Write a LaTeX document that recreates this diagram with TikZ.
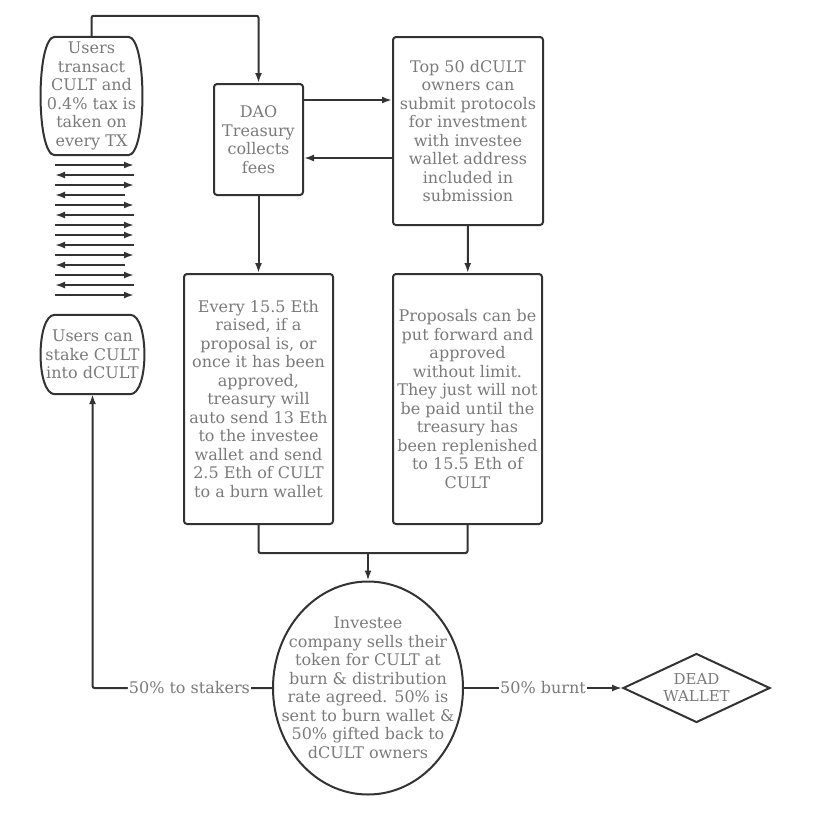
\documentclass[tikz,border=0pt]{standalone}
\usepackage{fontspec}
\setmainfont{DejaVu Serif}
\usetikzlibrary{arrows.meta,shapes.geometric}
\definecolor{inkgray}{HTML}{333333}
\definecolor{textgray}{HTML}{7A7A7A}
\tikzset{
  every node/.style={font=\fontsize{16pt}{18.5pt}\selectfont, text=textgray, align=center},
  box/.style={draw=inkgray, line width=2pt, rounded corners=3pt, inner sep=2pt},
  link/.style={draw=inkgray, line width=2pt, rounded corners=2pt},
  arr/.style={link, -{Latex[length=10pt,width=7pt]}},
  lbl/.style={fill=white, inner sep=1pt},
}
% outline with flat top and bottom and bulging sides
\newcommand\bulgebox[1]{%
  \draw[link, rounded corners=0pt] ([xshift=15pt]#1.north west) -- ([xshift=-15pt]#1.north east)
    .. controls ([xshift=4pt]#1.north east) and ([xshift=4pt]#1.south east) .. ([xshift=-15pt]#1.south east)
    -- ([xshift=15pt]#1.south west)
    .. controls ([xshift=-4pt]#1.south west) and ([xshift=-4pt]#1.north west) .. cycle;}

\begin{document}
\begin{tikzpicture}[x=1pt, y=-1pt]
\useasboundingbox (0,0) rectangle (816,823);

% users
\node[minimum width=103pt, minimum height=118pt, inner sep=0pt] (transact) at (91.5,96)
  {Users\\transact\\CULT and\\0.4\% tax is\\taken on\\every TX};
\bulgebox{transact}
\node[minimum width=105pt, minimum height=79pt, inner sep=0pt] (stake) at (92.5,354.5)
  {Users can\\stake CULT\\into dCULT};
\bulgebox{stake}

% transactions
\foreach \a/\b [count=\i] in {55/134, 134/55, 55/134, 125/55, 55/134, 134/55, 55/134,
                              55/134, 134/55, 55/134, 125/55, 55/134, 134/55, 55/134}
  \draw[arr] ({\a},{155+10*\i}) -- ({\b},{155+10*\i});

% treasury and proposals
\node[box, minimum width=89pt, minimum height=111pt] (dao) at (258.5,139.5)
  {DAO\\Treasury\\collects\\fees};
\node[box, minimum width=150pt, minimum height=188pt] (top) at (468,131)
  {Top 50 dCULT\\owners can\\submit protocols\\for investment\\with investee\\wallet address\\included in\\submission};
\node[box, minimum width=149pt, minimum height=250pt] (every) at (258.5,399)
  {Every 15.5 Eth\\raised, if a\\proposal is, or\\once it has been\\approved,\\treasury will\\auto send 13 Eth\\to the investee\\wallet and send\\2.5 Eth of CULT\\to a burn wallet};
\node[box, minimum width=149pt, minimum height=250pt] (prop) at (467.5,399)
  {Proposals can be\\put forward and\\approved\\without limit.\\They just will not\\be paid until the\\treasury has\\been replenished\\to 15.5 Eth of\\CULT};

% investee and burn
\node[ellipse, draw=inkgray, line width=2pt, minimum width=190pt, minimum height=213pt, inner sep=-20pt] (invest) at (368,688)
  {Investee\\company sells their\\token for CULT at\\burn \& distribution\\rate agreed. 50\% is\\sent to burn wallet \&\\50\% gifted back to\\dCULT owners};
\node[diamond, draw=inkgray, line width=2pt, aspect=2.13, minimum width=147pt, minimum height=69pt, inner sep=0pt,
  font=\fontsize{15pt}{17pt}\selectfont] (dead) at (696.5,688) {DEAD\\WALLET};

% connectors
\draw[arr] (transact.north) -- ++(0,-21) -| (dao.north);
\draw[arr] ([yshift=39.5pt]dao.east) -- ([yshift=39.5pt]dao.east -| top.west);
\draw[arr] ([yshift=-18.5pt]dao.east -| top.west) -- ([yshift=-18.5pt]dao.east);
\draw[arr] (dao) -- (every);
\draw[arr] (top) -- (prop);
\coordinate (merge) at (368,553);
\draw[link] (every.south) |- (merge) -| (prop.south);
\draw[arr] (merge) -- (invest.north);
\draw[arr] (invest.west) -- node[lbl, pos=0.46] {50\% to stakers} (invest.west -| stake.south) -- (stake.south);
\draw[arr] (invest.east) -- node[lbl] {50\% burnt} (dead.west);
\end{tikzpicture}
\end{document}
